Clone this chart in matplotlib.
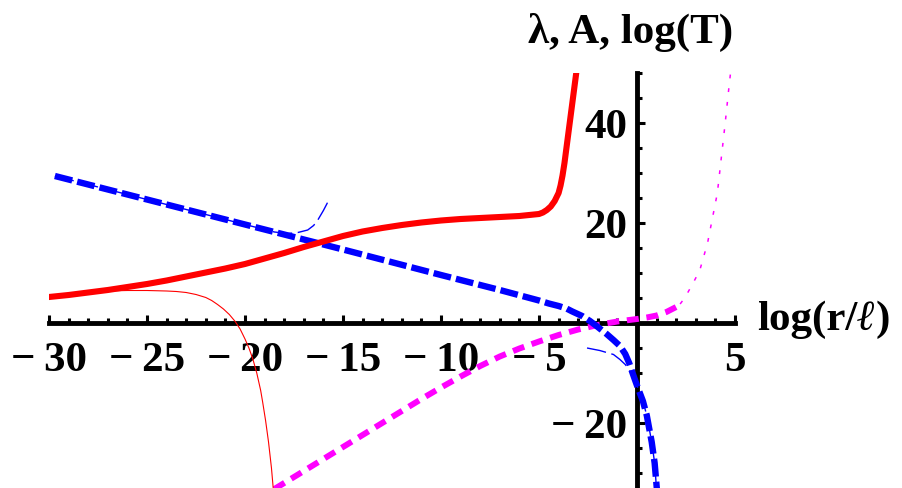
import matplotlib
matplotlib.use("Agg")
import matplotlib.pyplot as plt
from matplotlib.ticker import MultipleLocator

# lambda branch (thick) and its companion solution (thin)
red_thick_x = [-30, -29, -28, -27, -26, -25, -24, -23, -22, -21, -20, -19, -18, -17, -16,
               -15, -14, -13, -12, -11, -10, -9, -8, -7, -6, -5.5, -5, -4.8, -4.6, -4.4,
               -4.2, -4.0, -3.9, -3.8, -3.7, -3.6, -3.5, -3.4, -3.3, -3.2, -3.1, -3.05]
red_thick_y = [5.2, 5.6, 6.1, 6.6, 7.2, 7.8, 8.5, 9.3, 10.1, 10.9, 11.8, 12.9, 14.0, 15.2, 16.3,
               17.4, 18.3, 19.0, 19.6, 20.1, 20.5, 20.8, 21.0, 21.2, 21.4, 21.6, 21.8, 22.1, 22.6, 23.3,
               24.4, 26.0, 27.5, 29.5, 32.0, 35.0, 38.0, 41.0, 44.0, 47.0, 50.0, 51.5]
red_thin_x = [-30, -29, -28, -27, -26, -25, -24, -23.5, -23, -22.5, -22, -21.7, -21.4, -21.1,
              -20.8, -20.5, -20.25, -20.0, -19.8, -19.6, -19.4, -19.2, -19.1, -18.95, -18.8,
              -18.65, -18.55]
red_thin_y = [5.5, 5.9, 6.2, 6.4, 6.5, 6.5, 6.4, 6.3, 6.1, 5.7, 5.1, 4.5, 3.7, 2.8,
              1.7, 0.3, -1.2, -3.2, -5.0, -7.2, -10.0, -13.5, -15.8, -19.5, -23.8,
              -29.0, -33.5]

# A
blue_thick_x = [-29.7, -25, -20, -15, -10, -7, -5, -4.5, -4, -3.6, -3.3, -2.8, -2.4, -2.0,
                -1.55, -1.2, -0.87, -0.6, -0.4, -0.2, 0.0, 0.3, 0.5, 0.75, 0.9, 1.02]
blue_thick_y = [29.4, 24.7, 19.7, 14.7, 9.6, 6.6, 4.5, 3.9, 3.4, 2.9, 2.3, 1.4, 0.4, -0.8,
                -2.2, -3.4, -4.6, -6.2, -8.0, -10.3, -12.5, -15.6, -18.5, -23.8, -28.0, -33.5]
blue_thin_x1 = [-29.7, -25, -20, -18.5, -17.8, -17.3, -16.8, -16.5, -16.3, -16.0, -15.8, -15.7]
blue_thin_y1 = [29.4, 24.7, 19.7, 18.2, 17.9, 18.1, 18.6, 19.5, 20.5, 22.5, 24.0, 24.3]
blue_thin_x2 = [-2.55, -1.9, -1.2, -0.87, -0.6, -0.4, -0.2, 0.0, 0.3, 0.5, 0.75, 0.9, 1.0]
blue_thin_y2 = [-5.0, -5.5, -6.3, -7.3, -8.3, -9.3, -10.6, -12.5, -15.6, -18.5, -23.8, -28.0, -33.5]

# log(T)
mag_thick_x = [-18.5, -17, -15, -13, -11, -10, -9, -8, -7, -6, -5, -4, -3, -2, -1,
               0, 0.5, 1.0, 1.5, 2.0, 2.2]
mag_thick_y = [-33.2, -29.6, -24.8, -20.0, -15.2, -12.9, -10.7, -8.6, -6.7, -5.1, -3.7, -2.4,
               -1.3, -0.4, 0.3, 0.8, 1.1, 1.5, 2.2, 3.2, 3.8]
mag_thin_x = [2.2, 2.45, 2.85, 3.2, 3.6, 3.9, 4.1, 4.3, 4.5, 4.7, 4.8]
mag_thin_y = [3.8, 5.1, 7.9, 10.5, 16.0, 22.0, 26.0, 33.0, 40.0, 47.5, 51.0]

x_ticks = [-30, -25, -20, -15, -10, -5, 0, 5]
x_ticklabels = ["\u2212\u200930", "\u2212\u200925", "\u2212\u200920", "\u2212\u200915",
                "\u2212\u200910", "\u2212\u20095", "", "5"]
y_ticks = [-20, 0, 20, 40]
y_ticklabels = ["\u2212\u200920", "", "20", "40"]

font = dict(family="Liberation Serif", weight="bold", size=31)

fig = plt.figure(figsize=(9.02, 4.88), dpi=100)
ax = fig.add_axes([49 / 902, 0, 686 / 902, 415 / 488])
ax.set_xlim(-30, 5)
ax.set_ylim(-33, 50)

ax.plot(mag_thick_x, mag_thick_y, color="#ff00ff", lw=4.3, dashes=(2.0, 1.3),
        dash_capstyle="butt", zorder=3)
ax.plot(blue_thick_x, blue_thick_y, color="#0000ff", lw=4.6, dashes=(2.8, 0.8),
        dash_capstyle="butt", zorder=4)
ax.plot(red_thick_x, red_thick_y, color="#ff0000", lw=4.4, zorder=5)

ax.plot(red_thin_x, red_thin_y, color="#ff0000", lw=0.8, zorder=6)
ax.plot(blue_thin_x1, blue_thin_y1, color="#0000ff", lw=1.0, dashes=(14, 4), zorder=6)
ax.plot(blue_thin_x2, blue_thin_y2, color="#0000ff", lw=1.0, dashes=(14, 4), zorder=6)
ax.plot(mag_thin_x, mag_thin_y, color="#ff00ff", lw=1.1, dashes=(2.5, 6.5), zorder=6)

# axes through the origin
for side in ("top", "right"):
    ax.spines[side].set_visible(False)
ax.spines["left"].set_position(("data", 0))
ax.spines["bottom"].set_position(("data", 0))
for side in ("left", "bottom"):
    ax.spines[side].set_linewidth(3.5)
    ax.spines[side].set_zorder(2)

ax.set_xticks(x_ticks)
ax.set_xticklabels(x_ticklabels, fontdict=font)
ax.set_yticks(y_ticks)
ax.set_yticklabels(y_ticklabels, fontdict=font)
ax.xaxis.set_minor_locator(MultipleLocator(1))
ax.yaxis.set_minor_locator(MultipleLocator(5))
ax.tick_params(which="both", direction="in", width=2.2, color="black")
ax.tick_params(which="major", length=5.5)
ax.tick_params(which="minor", length=3.5)
ax.tick_params(axis="x", which="major", pad=14)
ax.tick_params(axis="y", which="major", pad=7)

# x-axis label with a script ell
t1 = ax.text(6.12, -1.4, "log(r/", ha="left", va="baseline", clip_on=False, **font)
t2 = ax.annotate("\u2113", xy=(1, 0), xycoords=t1, ha="left", va="bottom",
                 family="Liberation Serif", weight="bold", style="italic", size=31)
ax.annotate(")", xy=(1, 0), xycoords=t2, ha="left", va="bottom", **font)

ax.text(-5.56, 56, "\u03bb, A, log(T)", ha="left", va="baseline", clip_on=False, **font)

fig.savefig("out.png", dpi=100)
